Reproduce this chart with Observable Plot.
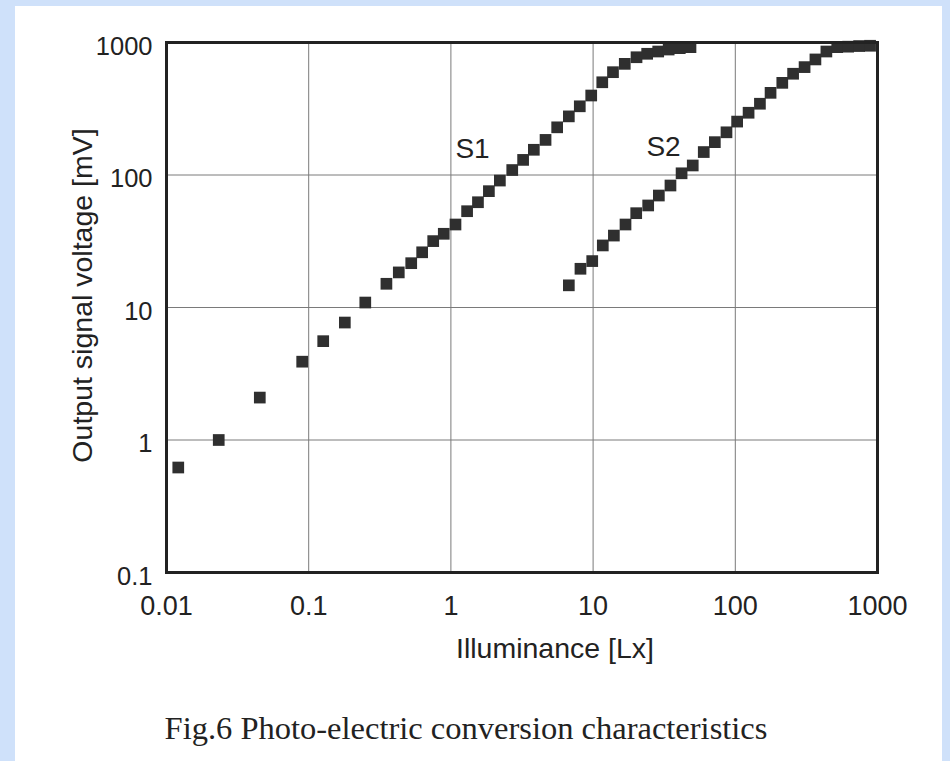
<!DOCTYPE html>
<html>
<head>
<meta charset="utf-8">
<script src="https://cdn.jsdelivr.net/npm/d3@7"></script>
<script src="https://cdn.jsdelivr.net/npm/@observablehq/plot@0.6"></script>
<style>
  html, body { margin: 0; padding: 0; }
  body { width: 950px; height: 761px; position: relative; overflow: hidden; background: #cfe1fa; }
  #panel { position: absolute; left: 15px; top: 6px; width: 927px; height: 755px; background: #ffffff; }
  #chart { position: absolute; left: 0; top: 0; }
  #caption { position: absolute; left: 0; top: 710px; width: 932px; text-align: center;
             font-family: "Liberation Serif", "Times New Roman", serif; font-size: 32.5px; line-height: 36px; color: #222; }
</style>
</head>
<body>
<div id="panel"></div>
<div id="chart"></div>
<div id="caption">Fig.6 Photo-electric conversion characteristics</div>
<script>
// Illuminance [Lx] and output voltage [mV]
const s1X = [0.0121, 0.0233, 0.0453, 0.090, 0.1265, 0.1795, 0.25, 0.352, 0.43, 0.526, 0.628, 0.751, 0.891, 1.077, 1.30, 1.55, 1.85, 2.21, 2.70, 3.22, 3.83, 4.63, 5.59, 6.75, 8.06, 9.70, 11.6, 13.8, 16.7, 20.2, 24.0, 28.7, 34.0, 40.7, 48.4];
const s1Y = [0.62, 1.0, 2.09, 3.9, 5.57, 7.7, 10.9, 15.1, 18.4, 21.6, 26.1, 31.7, 36.0, 42.3, 53.3, 62.3, 75.5, 90.8, 109, 130, 155, 184, 229, 277, 330, 398, 501, 597, 690, 774, 822, 855, 885, 906, 922];
const s2X = [6.75, 8.15, 9.86, 11.7, 14.0, 16.9, 20.1, 24.4, 29.0, 35.0, 41.9, 50.2, 60.0, 71.8, 86.7, 103, 124, 149, 177, 214, 255, 307, 366, 437, 521, 622, 743, 887];
const s2Y = [14.7, 19.6, 22.4, 29.4, 34.9, 42.3, 51.5, 58.9, 70.0, 83.3, 103, 118, 149, 177, 210, 253, 295, 345, 417, 496, 581, 652, 745, 855, 922, 930, 940, 945];

const seriesNames = ["S1", "S2"];
const seriesLabelX = [1.42, 31.3];
const seriesLabelY = [158, 164];

const xTicks = [0.01, 0.1, 1, 10, 100, 1000];
const yTicks = [0.1, 1, 10, 100, 1000];
const xTitle = "Illuminance [Lx]";
const yTitle = "Output signal voltage [mV]";

const s1 = s1X.map((x, i) => ({x, y: s1Y[i]}));
const s2 = s2X.map((x, i) => ({x, y: s2Y[i]}));
const labels = seriesNames.map((t, i) => ({t, x: seriesLabelX[i], y: seriesLabelY[i]}));

const fmt = d => String(d);
const ink = "#2f2f2f";

const chart = Plot.plot({
  width: 950,
  height: 690,
  marginLeft: 166,
  marginRight: 73,
  marginTop: 42,
  marginBottom: 118,
  style: { background: "transparent", fontFamily: "'Liberation Sans', Arial, sans-serif", color: "#222" },
  x: { type: "log", domain: [0.01, 1000] },
  y: { type: "log", domain: [0.1, 1000] },
  marks: [
    Plot.gridX(xTicks, { stroke: "#7a7a7a", strokeOpacity: 1, strokeWidth: 1 }),
    Plot.gridY(yTicks, { stroke: "#7a7a7a", strokeOpacity: 1, strokeWidth: 1 }),
    Plot.dot(s1, { x: "x", y: "y", symbol: "square", r: 6.6, fill: ink, stroke: "none" }),
    Plot.dot(s2, { x: "x", y: "y", symbol: "square", r: 6.6, fill: ink, stroke: "none" }),
    Plot.text(labels, { x: "x", y: "y", text: "t", fontSize: 28, fill: "#222" }),
    Plot.frame({ stroke: "#222", strokeWidth: 3 }),
    Plot.axisX(xTicks, { tickSize: 0, tickPadding: 23, fontSize: 27, tickFormat: fmt, label: null, fill: "#222" }),
    Plot.axisY(yTicks, { tickSize: 0, tickPadding: 14, fontSize: 25.5, tickFormat: fmt, label: null, dy: 4, fill: "#222" }),
    Plot.text([xTitle], { frameAnchor: "bottom", dx: 33, dy: 85, fontSize: 28.5, fill: "#222" }),
    Plot.text([yTitle], { frameAnchor: "left", textAnchor: "middle", rotate: -90, dx: -84, dy: -12, fontSize: 28.5, fill: "#222" })
  ]
});
document.getElementById("chart").appendChild(chart);
</script>
</body>
</html>
